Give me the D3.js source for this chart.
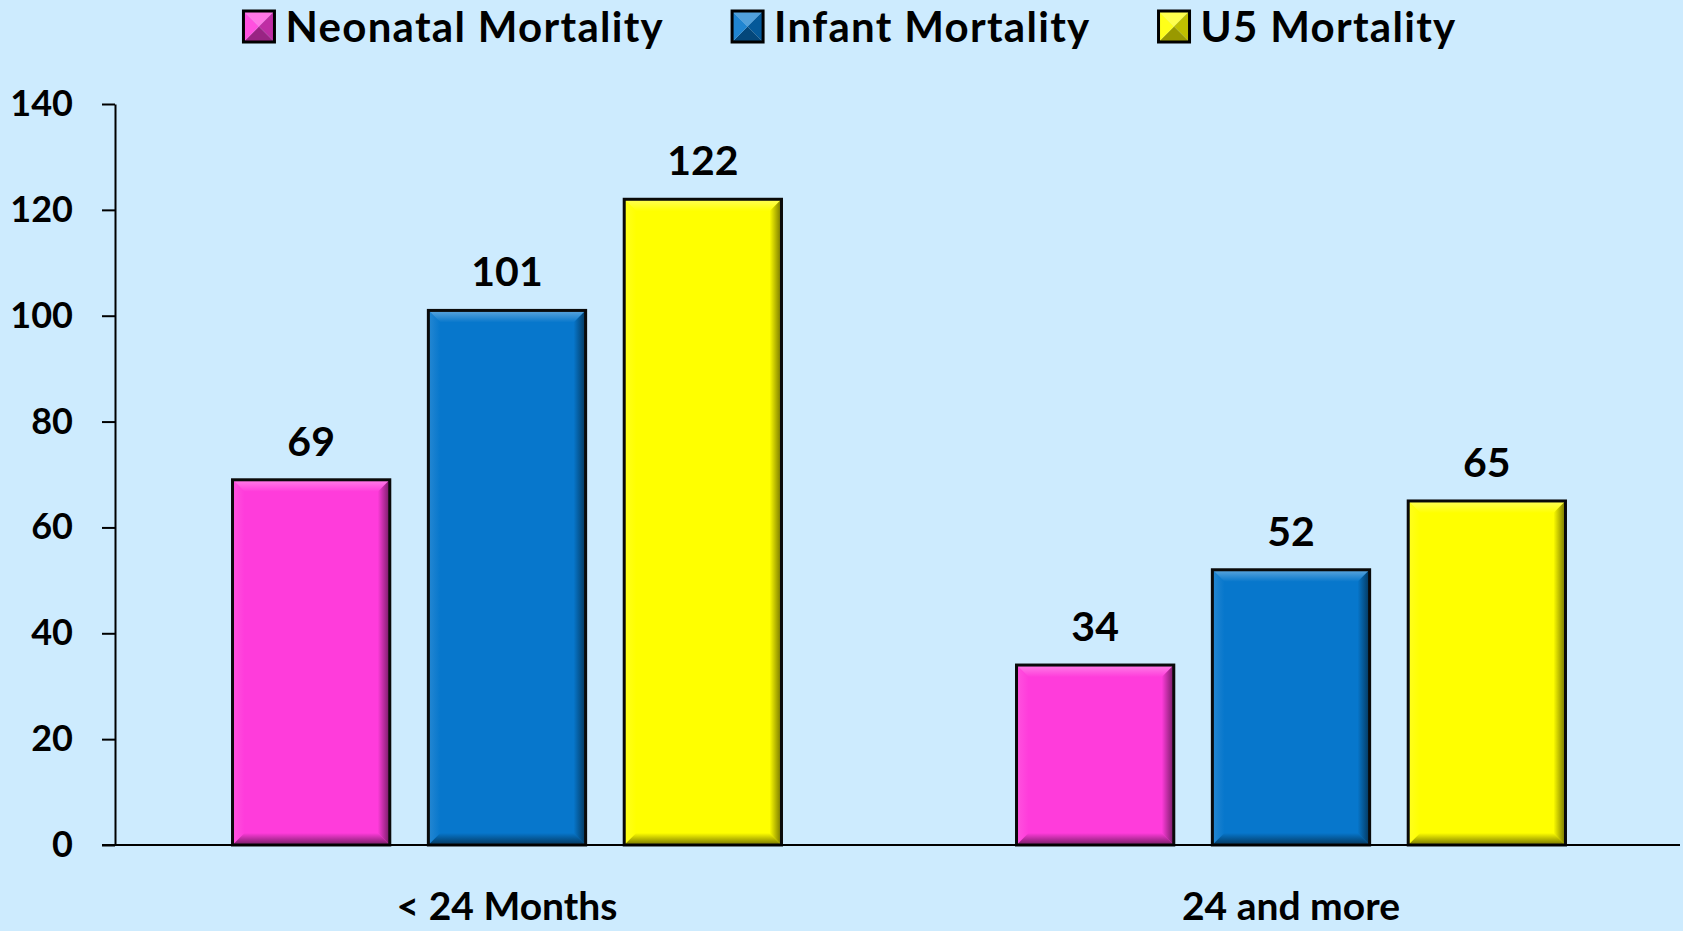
<!DOCTYPE html>
<html>
<head>
<meta charset="utf-8">
<script src="https://cdn.jsdelivr.net/npm/d3@7"></script>
<style>
  body { margin: 0; background: #cdebfe; }
  svg { display: block; font-family: Lato, "Open Sans", sans-serif; font-weight: bold; }
  .axis path, .axis line { stroke: #000; stroke-width: 2; }
</style>
</head>
<body>
<div id="chart"></div>
<script>
const categories = ['< 24 Months', '24 and more'];
const seriesNames = ['Neonatal Mortality', 'Infant Mortality', 'U5 Mortality'];
const seriesColors = ['#ff3cdb', '#0777cc', '#ffff00'];
const neonatal = [69, 34];
const infant = [101, 52];
const u5 = [122, 65];
const yTicks = [0, 20, 40, 60, 80, 100, 120, 140];

const values = [neonatal, infant, u5];

const width = 1683, height = 931;
const margin = {top: 104, left: 115, bottom: 86};
const bevel = 12;

const svg = d3.select('#chart').append('svg')
    .attr('width', width)
    .attr('height', height);

const defs = svg.append('defs');

// gradients for the bevelled edges of each series
seriesColors.forEach((c, i) => {
  const light = d3.interpolateRgb(c, '#fff')(0.35);
  const dark = d3.interpolateRgb(c, '#000')(0.55);
  const mk = (id, x1, y1, x2, y2, from, to) => {
    const g = defs.append('linearGradient').attr('id', id)
        .attr('x1', x1).attr('y1', y1).attr('x2', x2).attr('y2', y2);
    g.append('stop').attr('offset', '0%').attr('stop-color', from);
    g.append('stop').attr('offset', '100%').attr('stop-color', to);
  };
  mk(`top-${i}`, 0, 0, 0, 1, light, c);
  mk(`right-${i}`, 0, 0, 1, 0, c, dark);
  mk(`bottom-${i}`, 0, 0, 0, 1, c, dark);
  mk(`left-${i}`, 0, 0, 1, 0, d3.interpolateRgb(c, '#fff')(0.12), c);
});

const y = d3.scaleLinear()
    .domain([0, 140])
    .range([height - margin.bottom, margin.top]);

const x0 = d3.scaleBand()
    .domain(categories)
    .range([margin.left, width])
    .padding(0);

const x1 = d3.scaleBand()
    .domain(seriesNames)
    .range([0, x0.bandwidth()])
    .paddingInner(0.197)
    .paddingOuter(0.6);

// y axis
svg.append('g')
    .attr('class', 'axis')
    .attr('transform', `translate(${margin.left},0)`)
    .call(d3.axisLeft(y).tickValues(yTicks).tickSize(13).tickSizeOuter(0).tickPadding(29))
    .call(g => g.selectAll('text')
        .attr('font-size', 36)
        .attr('font-family', 'Lato, sans-serif')
        .attr('font-weight', 'bold')
        .attr('fill', '#000'));

// bars
const bevelPoly = (x, yy, w, h, side) => {
  const b = Math.min(bevel, h / 2);
  const p = {
    top: [[x, yy], [x + w, yy], [x + w - b, yy + b], [x + b, yy + b]],
    right: [[x + w, yy], [x + w, yy + h], [x + w - b, yy + h - b], [x + w - b, yy + b]],
    bottom: [[x, yy + h], [x + w, yy + h], [x + w - b, yy + h - b], [x + b, yy + h - b]],
    left: [[x, yy], [x, yy + h], [x + b, yy + h - b], [x + b, yy + b]]
  }[side];
  return 'M' + p.join('L') + 'Z';
};

const groups = svg.append('g').selectAll('g')
  .data(categories)
  .join('g')
    .attr('transform', d => `translate(${x0(d)},0)`);

groups.each(function(cat, ci) {
  const g = d3.select(this);
  seriesNames.forEach((s, si) => {
    const v = values[si][ci];
    const bx = x1(s), bw = x1.bandwidth();
    const by = y(v), bh = y(0) - y(v);
    g.append('rect')
        .attr('x', bx).attr('y', by).attr('width', bw).attr('height', bh)
        .attr('fill', seriesColors[si]);
    ['top', 'left', 'bottom', 'right'].forEach(side => {
      g.append('path')
          .attr('d', bevelPoly(bx, by, bw, bh, side))
          .attr('fill', `url(#${side}-${si})`);
    });
    g.append('rect')
        .attr('x', bx).attr('y', by).attr('width', bw).attr('height', bh)
        .attr('fill', 'none')
        .attr('stroke', '#0a0a0a')
        .attr('stroke-width', 3);
    g.append('text')
        .attr('x', bx + bw / 2)
        .attr('y', by - 24)
        .attr('text-anchor', 'middle')
        .attr('font-size', 41)
        .text(v);
  });
});

// x axis
svg.append('g')
    .attr('class', 'axis')
    .attr('transform', `translate(0,${y(0)})`)
    .call(d3.axisBottom(x0).tickSize(0).tickSizeOuter(0))
    .call(g => g.select('.domain').attr('d', `M${margin.left - 13},0H${width - 3}`))
    .call(g => g.selectAll('text')
        .attr('y', 75)
        .attr('dy', 0)
        .attr('font-size', 39)
        .attr('font-family', 'Lato, sans-serif')
        .attr('font-weight', 'bold')
        .attr('fill', '#000'));

// legend
const legend = svg.append('g');
const items = legend.selectAll('g')
  .data(seriesNames)
  .join('g');

items.each(function(s, i) {
  const g = d3.select(this);
  const sz = 31, cx = sz / 2, cy = sz / 2;
  const c = seriesColors[i];
  const tris = [
    [[0, 0], [sz, 0], [cx, cy], d3.interpolateRgb(c, '#fff')(0.3)],
    [[sz, 0], [sz, sz], [cx, cy], d3.interpolateRgb(c, '#000')(0.25)],
    [[0, sz], [sz, sz], [cx, cy], d3.interpolateRgb(c, '#000')(0.4)],
    [[0, 0], [0, sz], [cx, cy], d3.interpolateRgb(c, '#fff')(0.1)]
  ];
  tris.forEach(t => g.append('path').attr('d', `M${t[0]}L${t[1]}L${t[2]}Z`).attr('fill', t[3]).attr('transform', 'translate(0,11)'));
  g.append('rect').attr('y', 11).attr('width', sz).attr('height', sz)
      .attr('fill', 'none').attr('stroke', '#000').attr('stroke-width', 3);
  g.append('text')
      .attr('x', 42)
      .attr('y', 42)
      .attr('font-size', 42)
      .attr('letter-spacing', 1.3)
      .text(s);
});

// lay out the legend items in a centred row
let lx = 0;
items.each(function() {
  d3.select(this).attr('transform', `translate(${lx},0)`);
  lx += this.getBBox().width + 68;
});
lx -= 68;
legend.attr('transform', `translate(${850 - lx / 2},0)`);
</script>
</body>
</html>
